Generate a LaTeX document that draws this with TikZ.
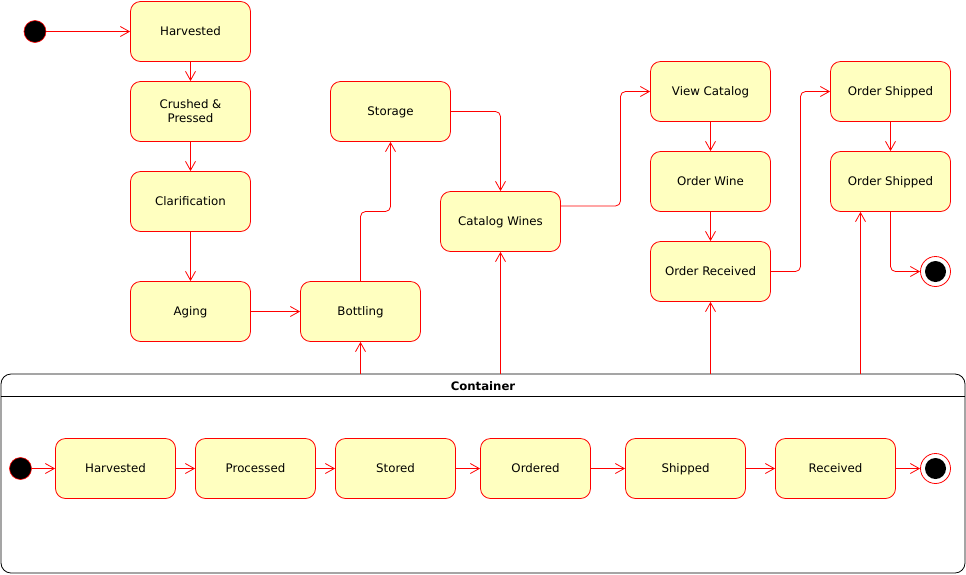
\documentclass[tikz,border=0pt]{standalone}
\usepackage{fontspec}
\setmainfont{DejaVu Sans}
\usetikzlibrary{arrows.meta}
\definecolor{statefill}{HTML}{FFFFC0}
\begin{document}
\begin{tikzpicture}[x=1pt,y=-1pt,
  basestate/.style={draw=red, fill=statefill, rounded corners=10pt,
    minimum width=120pt, minimum height=60pt, inner sep=0pt,
    font=\fontsize{11.8}{14}\selectfont, align=center, line width=0.8pt},
  state/.style={basestate, text height=9.8pt, text depth=1.8pt},
  flow/.style={draw=red, line width=0.8pt,
    -{Straight Barb[length=9pt,width=10pt]}, rounded corners=5pt},
  initial/.style={circle, draw=red, fill=black, minimum size=22pt,
    inner sep=0pt, line width=0.6pt},
  final/.style={circle, draw=red, fill=white, minimum size=30pt,
    inner sep=0pt, line width=0.8pt,
    path picture={\fill[black] (path picture bounding box.center) circle (10.5pt);}},
]
\useasboundingbox (0,0) rectangle (966,574);

% ---- production / sales workflow ----
\node[initial] (start) at (35,31.5) {};
\node[state] (harv)  at (190.5,31.5)  {Harvested};
\node[basestate] (crush) at (190.5,111.5) {Crushed \&\\ Pressed};
\node[state] (clar)  at (190.5,201.5) {Clarification};
\node[state] (aging) at (190.5,311.5) {Aging};
\node[state] (bott)  at (360.5,311.5) {Bottling};
\node[state] (stor)  at (390.5,111.5) {Storage};
\node[state] (cat)   at (500.5,221.5) {Catalog Wines};
\node[state] (view)  at (710.5,91.5)  {View Catalog};
\node[state] (owine) at (710.5,181.5) {Order Wine};
\node[state] (orec)  at (710.5,271.5) {Order Received};
\node[state] (ship1) at (890.5,91.5)  {Order Shipped};
\node[state] (ship2) at (890.5,181.5) {Order Shipped};
\node[final] (stop)  at (935.5,271.5) {};

\draw[flow] (start) -- (harv);
\draw[flow] (harv) -- (crush);
\draw[flow] (crush) -- (clar);
\draw[flow] (clar) -- (aging);
\draw[flow] (aging) -- (bott);
\draw[flow] (bott.north) -- (360.5,211.5) -- (390.5,211.5) -- (stor.south);
\draw[flow] (stor.east) -| (cat.north);
\draw[flow] (cat.east |- 0,206) -- (620.5,206) -- (620.5,91.5) -- (view.west);
\draw[flow] (view) -- (owine);
\draw[flow] (owine) -- (orec);
\draw[flow] (orec.east) -- (800.5,271.5) -- (800.5,91.5) -- (ship1.west);
\draw[flow] (ship1) -- (ship2);
\draw[flow] (ship2.south) |- (stop.west);

% ---- container with the lifecycle of a bottle ----
\node[draw=black, fill=white, rounded corners=10pt, line width=0.8pt,
  minimum width=964pt, minimum height=199pt, inner sep=0pt] (box) at (483,473.5) {};
\draw[line width=0.8pt] (box.west |- 0,396) -- (box.east |- 0,396);
\node[font=\bfseries\fontsize{11.7}{14}\selectfont] (title) at (483,386.5) {Container};

\coordinate (c1) at (360.5,374);
\coordinate (c2) at (500.5,374);
\coordinate (c3) at (710.5,374);
\coordinate (c4) at (860.5,374);
\draw[flow] (c1) -- (bott.south);
\draw[flow] (c2) -- (cat.south);
\draw[flow] (c3) -- (orec.south);
\draw[flow] (c4) -- (c4 |- ship2.south);

\node[initial] (istart) at (20.5,468.5) {};
\node[state] (iharv) at (115.5,468.5) {Harvested};
\node[state] (iproc) at (255.5,468.5) {Processed};
\node[state] (istor) at (395.5,468.5) {Stored};
\node[state, minimum width=110pt] (iord) at (535.5,468.5) {Ordered};
\node[state] (iship) at (685.5,468.5) {Shipped};
\node[state] (irec)  at (835.5,468.5) {Received};
\node[final] (istop) at (935.5,468.5) {};

\draw[flow] (istart) -- (iharv);
\draw[flow] (iharv) -- (iproc);
\draw[flow] (iproc) -- (istor);
\draw[flow] (istor) -- (iord);
\draw[flow] (iord) -- (iship);
\draw[flow] (iship) -- (irec);
\draw[flow] (irec) -- (istop);
\end{tikzpicture}
\end{document}
